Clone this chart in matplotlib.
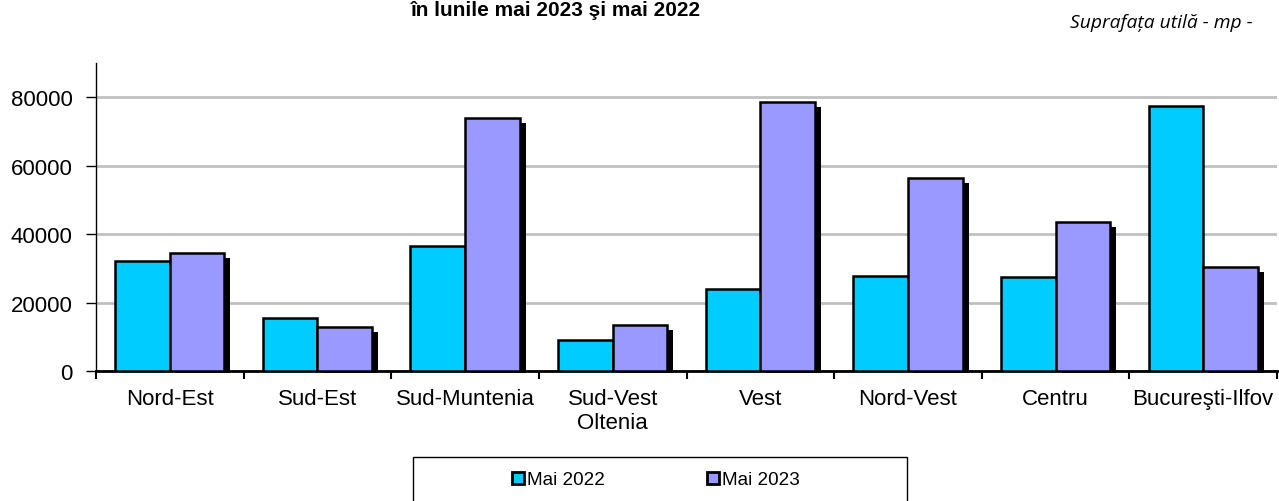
import matplotlib
matplotlib.use("Agg")
import matplotlib.pyplot as plt
import matplotlib.patches as patches
import numpy as np

# Suprafata utila a cladirilor, pe regiuni de dezvoltare
regions = ["Nord-Est", "Sud-Est", "Sud-Muntenia", "Sud-Vest\nOltenia", "Vest",
           "Nord-Vest", "Centru", "Bucureşti-Ilfov"]
mai_2022 = [32200, 15400, 36600, 9050, 24000, 27800, 27350, 77500]
mai_2023 = [34500, 12750, 73900, 13500, 78600, 56500, 43400, 30300]
series_names = ["Mai 2022", "Mai 2023"]
y_ticks = [0, 20000, 40000, 60000, 80000]

CYAN = "#00CCFF"
LILAC = "#9999FF"

plt.rcParams["font.family"] = ["Liberation Sans", "DejaVu Sans"]

fig = plt.figure(figsize=(12.79, 5.02), dpi=100)
ax = fig.add_axes([96 / 1279, 1 - 372 / 502, (1277 - 96) / 1279, (372 - 64) / 502])

x = np.arange(len(regions))
w = 0.37

# shadow behind the second series (offset right/down by a few pixels)
px_y = 1000 / 3.425
dx = 6 / 147.6
ax.bar(x + w / 2 + dx, np.array(mai_2023) + 2.5 * px_y - 5 * px_y, w, bottom=-2.5 * px_y,
       color="black", edgecolor="black", linewidth=0, zorder=2, clip_on=False)
ax.bar(x - w / 2, mai_2022, w, color=CYAN, edgecolor="black", linewidth=1.8, zorder=3)
ax.bar(x + w / 2, mai_2023, w, color=LILAC, edgecolor="black", linewidth=1.8, zorder=3)

ax.set_xlim(-0.5, len(regions) - 0.5)
ax.set_ylim(0, 90000)
ax.set_yticks(y_ticks)
ax.set_yticklabels([str(v) for v in y_ticks], fontsize=16)
ax.yaxis.grid(True, color="#c0c0c0", linewidth=2)
ax.set_axisbelow(True)

# boundaries as major ticks, names as minor ticks
ax.set_xticks(np.arange(len(regions) + 1) - 0.5)
ax.set_xticklabels([])
ax.set_xticks(x, minor=True)
ax.set_xticklabels(regions, minor=True, fontsize=16)
ax.tick_params(axis="x", which="major", direction="out", length=6, width=1.5)
ax.tick_params(axis="x", which="minor", length=0, pad=12)
ax.tick_params(axis="y", direction="out", length=7, width=1, pad=10)

for s in ["top", "right"]:
    ax.spines[s].set_visible(False)
ax.spines["bottom"].set_linewidth(2)
ax.spines["left"].set_linewidth(1)

# title and unit
fig.text(556 / 1279, 1 - 1 / 502, "în lunile mai 2023 şi mai 2022", ha="center",
         va="top", fontsize=15, fontweight="bold")
fig.text(1253 / 1279, 1 - 28 / 502, "Suprafața utilă - mp -", ha="right", va="baseline",
         fontsize=13.9, style="italic", family=["Open Sans", "DejaVu Sans"])

# legend with frame whose lower part is cut off
frame = patches.Rectangle((413 / 1279, -0.05), (907 - 413) / 1279, 0.05 + (502 - 458) / 502,
                          transform=fig.transFigure, facecolor="white", edgecolor="black",
                          linewidth=1, clip_on=False)
fig.patches.append(frame)
handles = [patches.Patch(facecolor=CYAN, edgecolor="black", linewidth=2),
           patches.Patch(facecolor=LILAC, edgecolor="black", linewidth=2)]
fig.legend(handles, series_names, loc="center", bbox_to_anchor=(656 / 1279, 1 - 481 / 502),
           ncol=2, frameon=False, fontsize=13.6, handlelength=0.65, handleheight=0.65,
           handletextpad=0.15, columnspacing=5.4)

fig.savefig("out.png", dpi=100)
